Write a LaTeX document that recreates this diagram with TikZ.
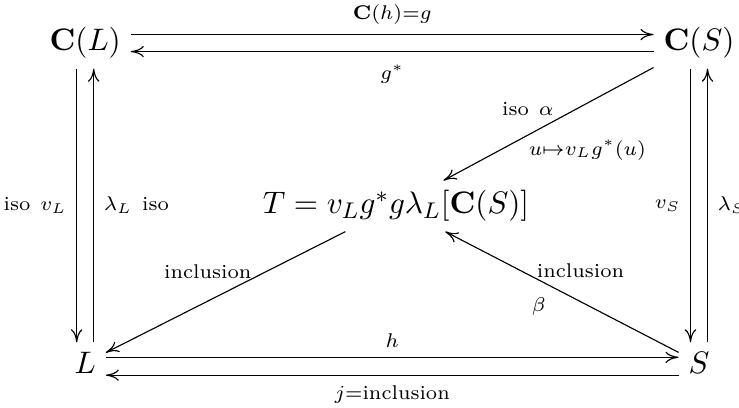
\documentclass[tikz,border=0pt]{standalone}
\usepackage{amsmath}
\usetikzlibrary{arrows.meta}

\tikzset{
	obj/.style={inner sep=3.33pt, font=\fontsize{11.2}{13}\selectfont},
	lab/.style={font=\scriptsize},
}

\begin{document}
\begin{tikzpicture}[line join=round, >={To[length=4.6pt,width=4pt]}, line width=0.4pt]
	\useasboundingbox (0,0) rectangle (9.149,5.039);

	% the four corners and the middle
	\node[obj] (CL) at (1.055, 4.506) {$\mathbf{C}(L)$};
	\node[obj] (CS) at (8.654, 4.506) {$\mathbf{C}(S)$};
	\node[obj] (L)  at (1.055, 0.545) {$L$};
	\node[obj] (S)  at (8.654, 0.545) {$S$};
	\node[obj] (T)  at (4.902, 2.488) {$T = v_Lg^*g\lambda_L[\mathbf{C}(S)]$};

	% top pair
	\draw[->] ([yshift=3pt]CL.east) -- ([yshift=3pt]CS.west)
		node[lab, midway, above] {$\mathbf{C}(h){=}g$};
	\draw[->] ([yshift=-3pt]CS.west) -- ([yshift=-3pt]CL.east)
		node[lab, midway, below=1pt] {$g^*$};

	% bottom pair
	\draw[->] ([yshift=2pt]L.east) -- ([yshift=2pt]S.west)
		node[lab, midway, above] {$h$};
	\draw[->] ([yshift=-4.3pt]S.west) -- ([yshift=-4.3pt]L.east)
		node[lab, midway, below] {$j{=}\text{inclusion}$};

	% left pair
	\draw[->] ([xshift=-3pt]CL.south) -- ([xshift=-3pt]L.north)
		node[lab, midway, left] {iso\enspace$v_L$};
	\draw[->] ([xshift=3pt]L.north) -- ([xshift=3pt]CL.south)
		node[lab, midway, right] {$\lambda_L$\enspace iso};

	% right pair
	\draw[->] ([xshift=-3pt]CS.south) -- ([xshift=-3pt]S.north)
		node[lab, midway, left] {$v_S$};
	\draw[->] ([xshift=3pt]S.north) -- ([xshift=3pt]CS.south)
		node[lab, midway, right] {$\lambda_S$};

	% diagonals
	\draw[->] (CS) -- (T)
		node[lab, pos=0.46, anchor=south east, inner sep=1pt] {iso\enspace$\alpha$}
		node[lab, pos=0.61, anchor=north west, inner sep=1pt] {$u{\mapsto}v_Lg^*(u)$};
	\draw[->] (T) -- (L)
		node[lab, pos=0.39, anchor=south east, inner sep=0pt] {inclusion};
	\draw[->] (S) -- (T)
		node[lab, pos=0.61, anchor=south west, inner sep=0pt] {inclusion}
		node[lab, pos=0.53, anchor=north east, inner sep=3pt] {$\beta$};
\end{tikzpicture}
\end{document}
